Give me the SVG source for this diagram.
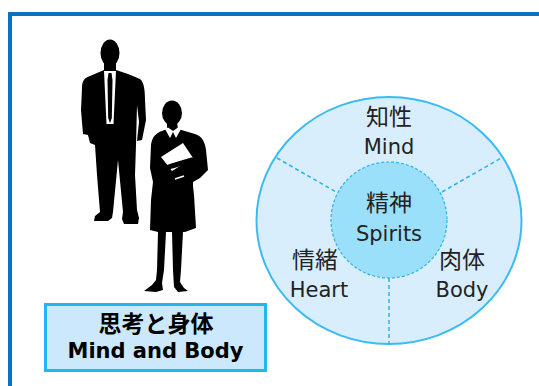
<svg xmlns="http://www.w3.org/2000/svg" width="539" height="386" viewBox="0 0 539 386">
  <style>
    .lbl { font-family: "DejaVu Sans", "Noto Sans CJK JP", sans-serif; fill: #222222; text-anchor: middle; }
    .jp { font-size: 23px; }
    .en { font-size: 21px; }
    .cap { font-family: "DejaVu Sans", "Noto Sans CJK JP", sans-serif; font-weight: bold; fill: #000000; text-anchor: middle; }
    .divider { stroke: #2DB2EE; stroke-width: 1.5; stroke-dasharray: 4 3; fill: none; }
    .sil { fill: #000000; }
  </style>

  <rect width="539" height="386" fill="#ffffff"/>

  <!-- outer frame -->
  <rect id="frame" x="10" y="14" width="560" height="400" fill="none" stroke="#0A72C2" stroke-width="4"/>

  <!-- silhouettes -->
  <g id="people">
    <g id="man">
      <ellipse class="sil" cx="110" cy="53" rx="9.5" ry="13.5"/>
      <path class="sil" d="M104,62 L116,62 L116,70 L128,74 L140,79 C144,82 145,90 145,100 L146,120 L142,140 L137,141 L139,122 L137,105 L136,145 L135,175 L137,210 L139,218 L138,224 L124,224 L122,219 L123,212 L118,160 L113,212 L112,218 L108,221 L94,221 L95,216 L100,212 L97,175 L95,145 L90,143 L88,135 L83,134 L81,110 L82,88 C82,80 85,78 90,76 L104,70 Z"/>
      <path d="M104,71 L116,71 L113.5,124 L106.5,124 Z" fill="#ffffff"/>
      <path class="sil" d="M108.5,73 L111.5,73 L112.5,80 L111.8,118 L110,123 L108.2,118 L107.5,80 Z"/>
    </g>
    <g id="woman">
      <ellipse class="sil" cx="172" cy="113" rx="10" ry="12.5"/>
      <path class="sil" d="M167,122 L177,122 L178,129 L195,134 C202,136 205,142 206,150 L208,170 L200,178 L193,182 L193,186 L194,195 L196,228 L185,232 L183,232 L181,270 L180,282 L184,288 L188,291 L178,292 L174,287 L173,270 L172,232 L166,232 L164,270 L162,283 L163,290 L156,292 L144,291 L152,285 L156,280 L157,270 L158,232 L150,230 L151,200 L153,182 L150,168 L151,145 C152,137 156,133 162,131 L167,129 Z"/>
      <path d="M165,129 L170,138 L173,132 L176,138 L181,129 L178,127.5 L173,131 L168,127.5 Z" fill="#ffffff"/>
      <path d="M161,157 L183,143 L193,158 L172,171 Z" fill="#ffffff"/>
      <path d="M157,171 L172,166 L192,160" fill="none" stroke="#000000" stroke-width="5" stroke-linecap="round"/>
      <path d="M175,179 L184,176" fill="none" stroke="#ffffff" stroke-width="1.5"/>
    </g>
  </g>

  <!-- circle diagram -->
  <g id="node-outer">
    <ellipse cx="389" cy="220.5" rx="132.5" ry="123.5" fill="#D9EEFD" stroke="#3BBBF2" stroke-width="2"/>
  </g>

  <g id="connectors">
    <line class="divider" x1="277" y1="158" x2="336" y2="192"/>
    <line class="divider" x1="442" y1="192" x2="501" y2="158"/>
    <line class="divider" x1="389" y1="278" x2="389" y2="344"/>
  </g>

  <g id="node-spirits">
    <circle cx="389" cy="220" r="58" fill="#9BE0FB" stroke="#2DB2EE" stroke-width="1.2" stroke-dasharray="3 2"/>
    <text class="lbl jp" x="389" y="211">精神</text>
    <text class="lbl en" x="389" y="241">Spirits</text>
  </g>

  <g id="node-mind">
    <text class="lbl jp" x="389" y="125">知性</text>
    <text class="lbl en" x="389" y="154">Mind</text>
  </g>

  <g id="node-heart">
    <text class="lbl jp" x="315" y="268">情緒</text>
    <text class="lbl en" x="319" y="297">Heart</text>
  </g>

  <g id="node-body">
    <text class="lbl jp" x="462" y="268">肉体</text>
    <text class="lbl en" x="462" y="297">Body</text>
  </g>

  <!-- caption box -->
  <g id="node-caption">
    <rect x="45.5" y="304.5" width="220" height="66" fill="#CCE8FC" stroke="#1FB6F2" stroke-width="3"/>
    <text class="cap" x="156" y="332" font-size="23">思考と身体</text>
    <text class="cap" x="155.5" y="358" font-size="21">Mind and Body</text>
  </g>
</svg>
